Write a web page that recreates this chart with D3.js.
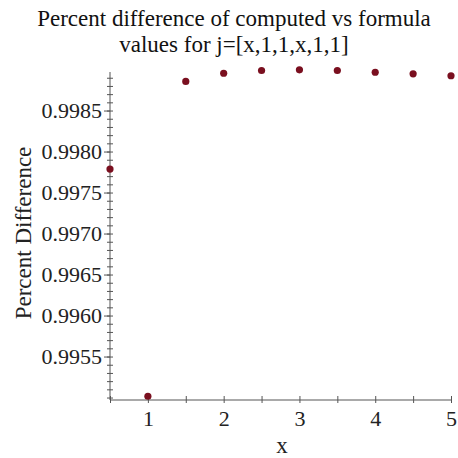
<!DOCTYPE html>
<html><head><meta charset="utf-8">
<script src="https://cdn.jsdelivr.net/npm/d3@7"></script>
<style>body{margin:0;background:#fff}svg{display:block}</style>
</head><body>
<svg id="c" width="458" height="458"></svg>
<script>
const xValues = [0.5, 1, 1.5, 2, 2.5, 3, 3.5, 4, 4.5, 5];
const yValues = [0.997786, 0.995016, 0.998855, 0.998955, 0.998988, 0.998996, 0.998988, 0.998967, 0.998948, 0.998924];
const xTicks = [1, 2, 3, 4, 5];
const yTicks = [0.9955, 0.9960, 0.9965, 0.9970, 0.9975, 0.9980, 0.9985];
const titleLines = ["Percent difference of computed vs formula", "values for j=[x,1,1,x,1,1]"];

const svg = d3.select("#c");
const font = "'Liberation Serif', 'Times New Roman', serif";
const x = d3.scaleLinear().domain([0.5, 5]).range([110, 451]);
const y = d3.scaleLinear().domain([0.99497, 0.99897]).range([400, 72]);

// title
svg.append("g").selectAll("text").data(titleLines).join("text")
  .attr("x", 234).attr("y", (d, i) => 26 + i * 26)
  .attr("text-anchor", "middle").attr("font-family", font).attr("font-size", 23)
  .attr("fill", "#111").text(d => d);

// x axis
const xAxis = svg.append("g").attr("transform", "translate(0,400)");
xAxis.call(d3.axisBottom(x).tickValues(d3.range(0.5, 5.01, 0.5)).tickSize(4).tickFormat(""));
xAxis.call(g => g.select(".domain").attr("stroke", "#555").attr("d", `M${x(0.5)},0H${x(5)}`));
xAxis.selectAll(".tick line").attr("stroke", "#555").attr("y2", -4).attr("y1", 3);
const xLab = svg.append("g").attr("transform", "translate(0,400)");
xLab.call(d3.axisBottom(x).tickValues(xTicks).tickSize(0).tickPadding(10).tickFormat(d3.format("d")));
xLab.select(".domain").remove();
xLab.selectAll("text").attr("font-family", font).attr("font-size", 22).attr("fill", "#222");

// y axis
const yMinor = d3.range(0.9950, 0.99897, 0.0001);
const yAxis = svg.append("g").attr("transform", "translate(110,0)");
yAxis.call(d3.axisLeft(y).tickValues(yMinor).tickSize(4).tickFormat(""));
yAxis.call(g => g.select(".domain").attr("stroke", "#555").attr("d", `M0,${y(0.99897)}V${y(0.99497)}`));
yAxis.selectAll(".tick line").attr("stroke", "#555").attr("x2", -3).attr("x1", 3);
const yLab = svg.append("g").attr("transform", "translate(110,0)");
yLab.call(d3.axisLeft(y).tickValues(yTicks).tickSize(6).tickPadding(2).tickFormat(d3.format(".4f")));
yLab.select(".domain").remove();
yLab.selectAll(".tick line").attr("stroke", "#555");
yLab.selectAll("text").attr("font-family", font).attr("font-size", 22).attr("fill", "#222");

// axis titles
svg.append("text").attr("x", 282).attr("y", 453).attr("text-anchor", "middle")
  .attr("font-family", font).attr("font-size", 23).attr("fill", "#222").text("x");
svg.append("text").attr("transform", "translate(31,233) rotate(-90)").attr("text-anchor", "middle")
  .attr("font-family", font).attr("font-size", 23).attr("fill", "#222").text("Percent Difference");

// points
svg.append("g").selectAll("circle").data(xValues).join("circle")
  .attr("cx", (d) => x(d)).attr("cy", (d, i) => y(yValues[i])).attr("r", 3.6)
  .attr("fill", "#7a0f1f");
</script>
</body></html>
